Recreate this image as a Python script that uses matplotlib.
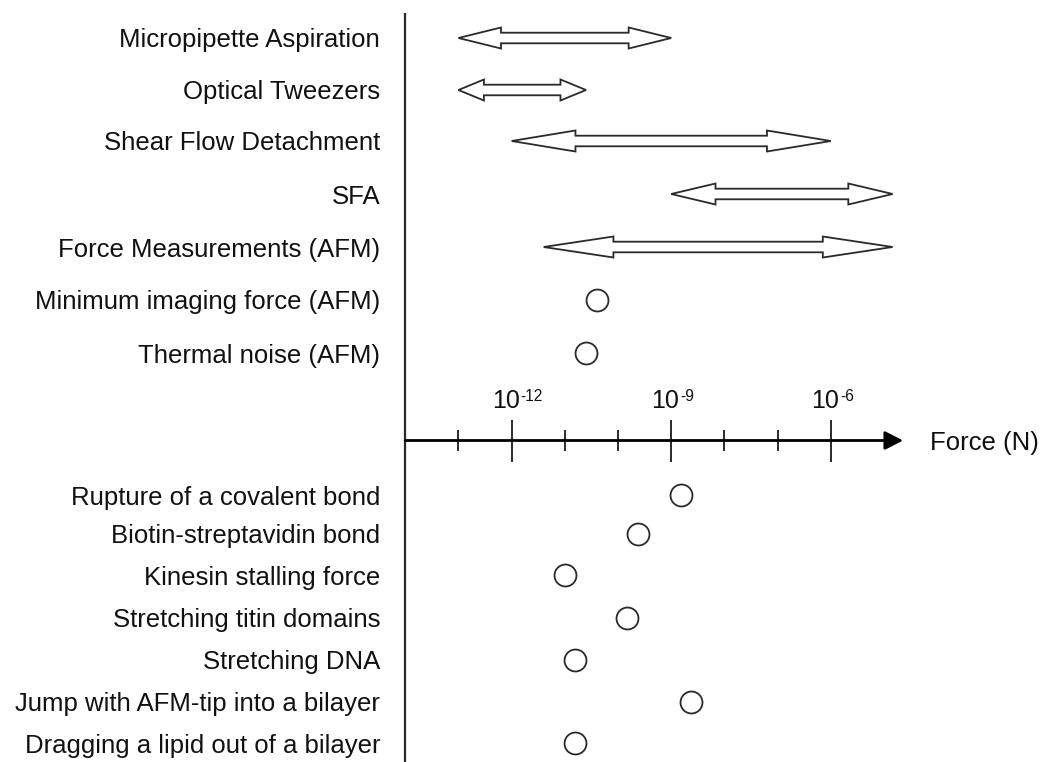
import numpy as np
import matplotlib
matplotlib.use("Agg")
import matplotlib.pyplot as plt
from matplotlib.patches import Polygon

plt.rcParams['font.family'] = ['Liberation Sans', 'DejaVu Sans']

# techniques with a force range (N)
range_names = ['Micropipette Aspiration', 'Optical Tweezers', 'Shear Flow Detachment',
               'SFA', 'Force Measurements (AFM)']
range_lo = [1e-13, 1e-13, 1e-12, 1e-9, 4e-12]
range_hi = [1e-9, 2.5e-11, 1e-6, 1.45e-5, 1.45e-5]

# single values on the instrument side (N)
point_names_top = ['Minimum imaging force (AFM)', 'Thermal noise (AFM)']
point_vals_top = [4e-11, 2.5e-11]

# forces of biological processes (N)
point_names_bot = ['Rupture of a covalent bond', 'Biotin-streptavidin bond',
                   'Kinesin stalling force', 'Stretching titin domains', 'Stretching DNA',
                   'Jump with AFM-tip into a bilayer', 'Dragging a lipid out of a bilayer']
point_vals_bot = [1.5e-9, 2.4e-10, 1e-11, 1.5e-10, 1.55e-11, 2.4e-9, 1.55e-11]

major_exp = [-12, -9, -6]
minor_exp = [-13, -11, -10, -8, -7]

# layout (pixel rows, y grows downward)
rows_range = [38, 90, 141, 194, 247]
rows_top = [300, 353]
rows_bot = [495, 534, 575, 618, 660, 702, 743]
axis_y = 440.5
ink = '#2a2a2a'
fs = 18.5

fig = plt.figure(figsize=(10.41, 7.62), dpi=100)
ax = fig.add_axes([0, 0, 1, 1])
ax.set_xscale('log')
ax.set_xlim(10 ** -21.617, 10 ** -2.049)
ax.set_ylim(762, 0)
ax.axis('off')

origin = 1e-14

# vertical separator
ax.vlines(origin, 13, 762, color=ink, lw=1.6)

def label(y, text):
    ax.annotate(text, (origin, y), xytext=(-25, 0), textcoords='offset pixels',
                ha='right', va='center_baseline', fontsize=fs, color='#111111')

# double arrows for measurement ranges
for name, lo, hi, y in zip(range_names, range_lo, range_hi, rows_range):
    a, b = np.log10(lo), np.log10(hi)
    h = 0.2 * (b - a)
    xs = [a, a + h, a + h, b - h, b - h, b, b - h, b - h, a + h, a + h]
    ys = [0, -10.5, -5.3, -5.3, -10.5, 0, 10.5, 5.3, 5.3, 10.5]
    verts = [(10 ** x, y + dy) for x, dy in zip(xs, ys)]
    ax.add_patch(Polygon(verts, closed=True, fc='white', ec=ink, lw=1.3, joinstyle='miter'))
    label(y, name)

marker = dict(marker='o', ms=15.8, mfc='white', mec=ink, mew=1.3, ls='none')
for name, v, y in zip(point_names_top, point_vals_top, rows_top):
    ax.plot([v], [y], **marker)
    label(y, name)
for name, v, y in zip(point_names_bot, point_vals_bot, rows_bot):
    ax.plot([v], [y], **marker)
    label(y, name)

# force axis
tip = 10 ** -4.64
ax.annotate('', xy=(tip, axis_y), xytext=(origin, axis_y),
            arrowprops=dict(arrowstyle='-|>,head_length=0.55,head_width=0.28', lw=2,
                            color='black', shrinkA=0, shrinkB=0, mutation_scale=20))
ax.vlines([10.0 ** e for e in major_exp], axis_y - 21, axis_y + 21, color=ink, lw=1.4)
ax.vlines([10.0 ** e for e in minor_exp], axis_y - 10.5, axis_y + 10.5, color=ink, lw=1.4)
for e in major_exp:
    ax.annotate('10', (10.0 ** e, 408), xytext=(8, 0), textcoords='offset pixels',
                ha='right', va='baseline', fontsize=18, color='#111111')
    ax.annotate(str(e), (10.0 ** e, 408), xytext=(9, 7), textcoords='offset pixels',
                ha='left', va='baseline', fontsize=18 * 0.62, color='#111111')
ax.annotate('Force (N)', (tip, axis_y), xytext=(27, 0), textcoords='offset pixels',
            ha='left', va='center_baseline', fontsize=fs, color='#111111')

fig.savefig('out.png', dpi=100, facecolor='white')
